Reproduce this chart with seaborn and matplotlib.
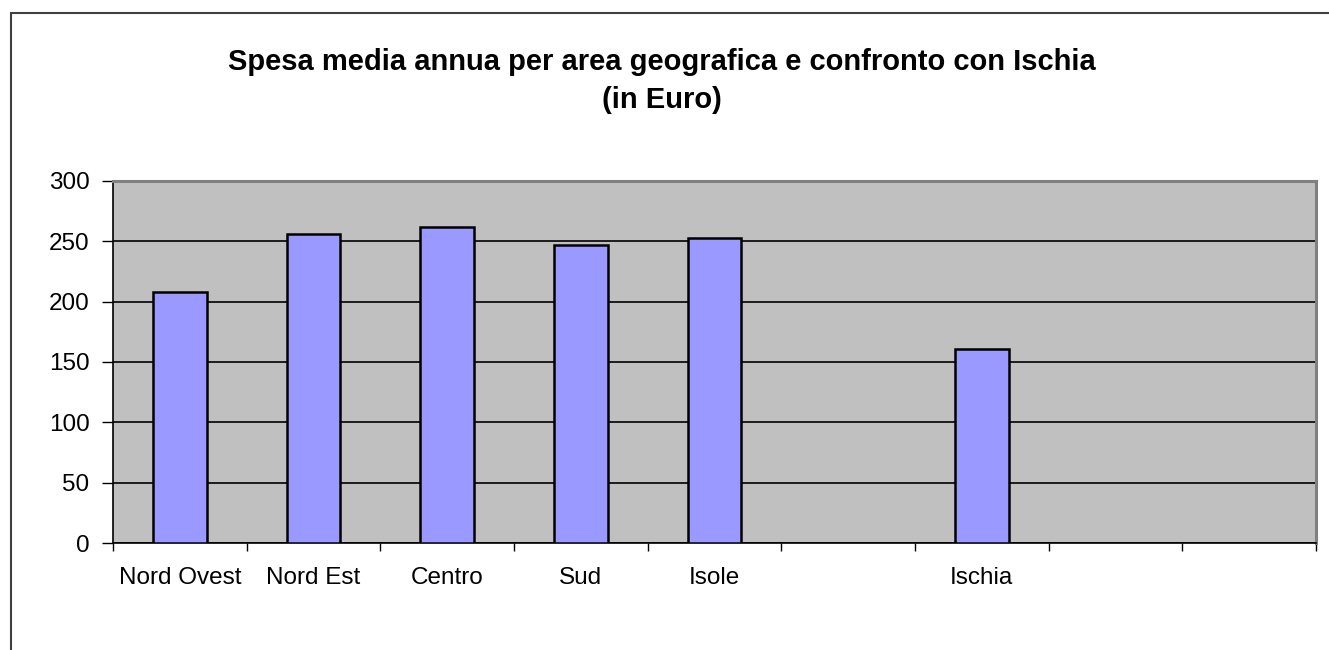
import matplotlib
matplotlib.use("Agg")
import matplotlib.pyplot as plt
import seaborn as sns
import pandas as pd
from matplotlib.patches import Rectangle

# data
aree = ["Nord Ovest", "Nord Est", "Centro", "Sud", "Isole", "Ischia"]
spesa = [208, 256, 262, 247, 253, 161]
# category slots on the axis (blank slots stay empty)
slot_order = ["Nord Ovest", "Nord Est", "Centro", "Sud", "Isole", " ", "Ischia", "  ", "   "]
y_ticks = [0, 50, 100, 150, 200, 250, 300]

sns.set_style("white")
plt.rcParams["font.family"] = ["Liberation Sans", "DejaVu Sans"]
plt.rcParams["text.color"] = "black"
plt.rcParams["xtick.color"] = "black"
plt.rcParams["ytick.color"] = "black"
plt.rcParams["xtick.labelcolor"] = "black"
plt.rcParams["ytick.labelcolor"] = "black"

df = pd.DataFrame({"area": aree, "spesa": spesa})

fig = plt.figure(figsize=(13.29, 6.5), dpi=100)
ax = fig.add_axes([113 / 1329, 1 - 543 / 650, (1316 - 113) / 1329, (543 - 181) / 650])

sns.barplot(data=df, x="area", y="spesa", order=slot_order, color="#9999FF",
            saturation=1, width=0.4, edgecolor="black", linewidth=1.8, ax=ax, zorder=3)

ax.set_facecolor("#C0C0C0")
ax.set_xlim(-0.5, len(slot_order) - 0.5)
ax.set_ylim(0, 300)
ax.set_yticks(y_ticks)
ax.yaxis.grid(True, color="black", linewidth=1.2, zorder=1)
ax.set_axisbelow(True)
ax.set_xlabel("")
ax.set_ylabel("")

# tick marks between categories, labels centred on the slots
n = len(slot_order)
ax.set_xticks([i - 0.5 for i in range(n + 1)])
ax.set_xticklabels([""] * (n + 1))
ax.set_xticks(range(n), minor=True)
ax.set_xticklabels(slot_order, minor=True, fontsize=17.5)
ax.tick_params(axis="x", which="major", bottom=True, length=6, width=1, color="black", direction="out")
ax.tick_params(axis="x", which="minor", bottom=True, length=0, pad=17)
ax.tick_params(axis="y", left=True, length=8, width=1, color="black", direction="out", labelsize=17.5, pad=9)

for side in ["left", "bottom"]:
    ax.spines[side].set_color("black")
    ax.spines[side].set_linewidth(1.2)
for side in ["top", "right"]:
    ax.spines[side].set_color("#808080")
    ax.spines[side].set_linewidth(2.2)

fig.text(662 / 1329, 1 - 62 / 650, "Spesa media annua per area geografica e confronto con Ischia",
         ha="center", va="center", fontsize=21, fontweight="bold", color="black")
fig.text(662 / 1329, 1 - 100 / 650, "(in Euro)", ha="center", va="center",
         fontsize=21, fontweight="bold", color="black")

# outer chart frame, cut by the image edge
fig.patches.append(Rectangle((11 / 1329, -0.1), 1.1, 1 - 13 / 650 + 0.1, transform=fig.transFigure,
                             fill=False, edgecolor="#404040", linewidth=1.5))

fig.savefig("out.png", dpi=100)
